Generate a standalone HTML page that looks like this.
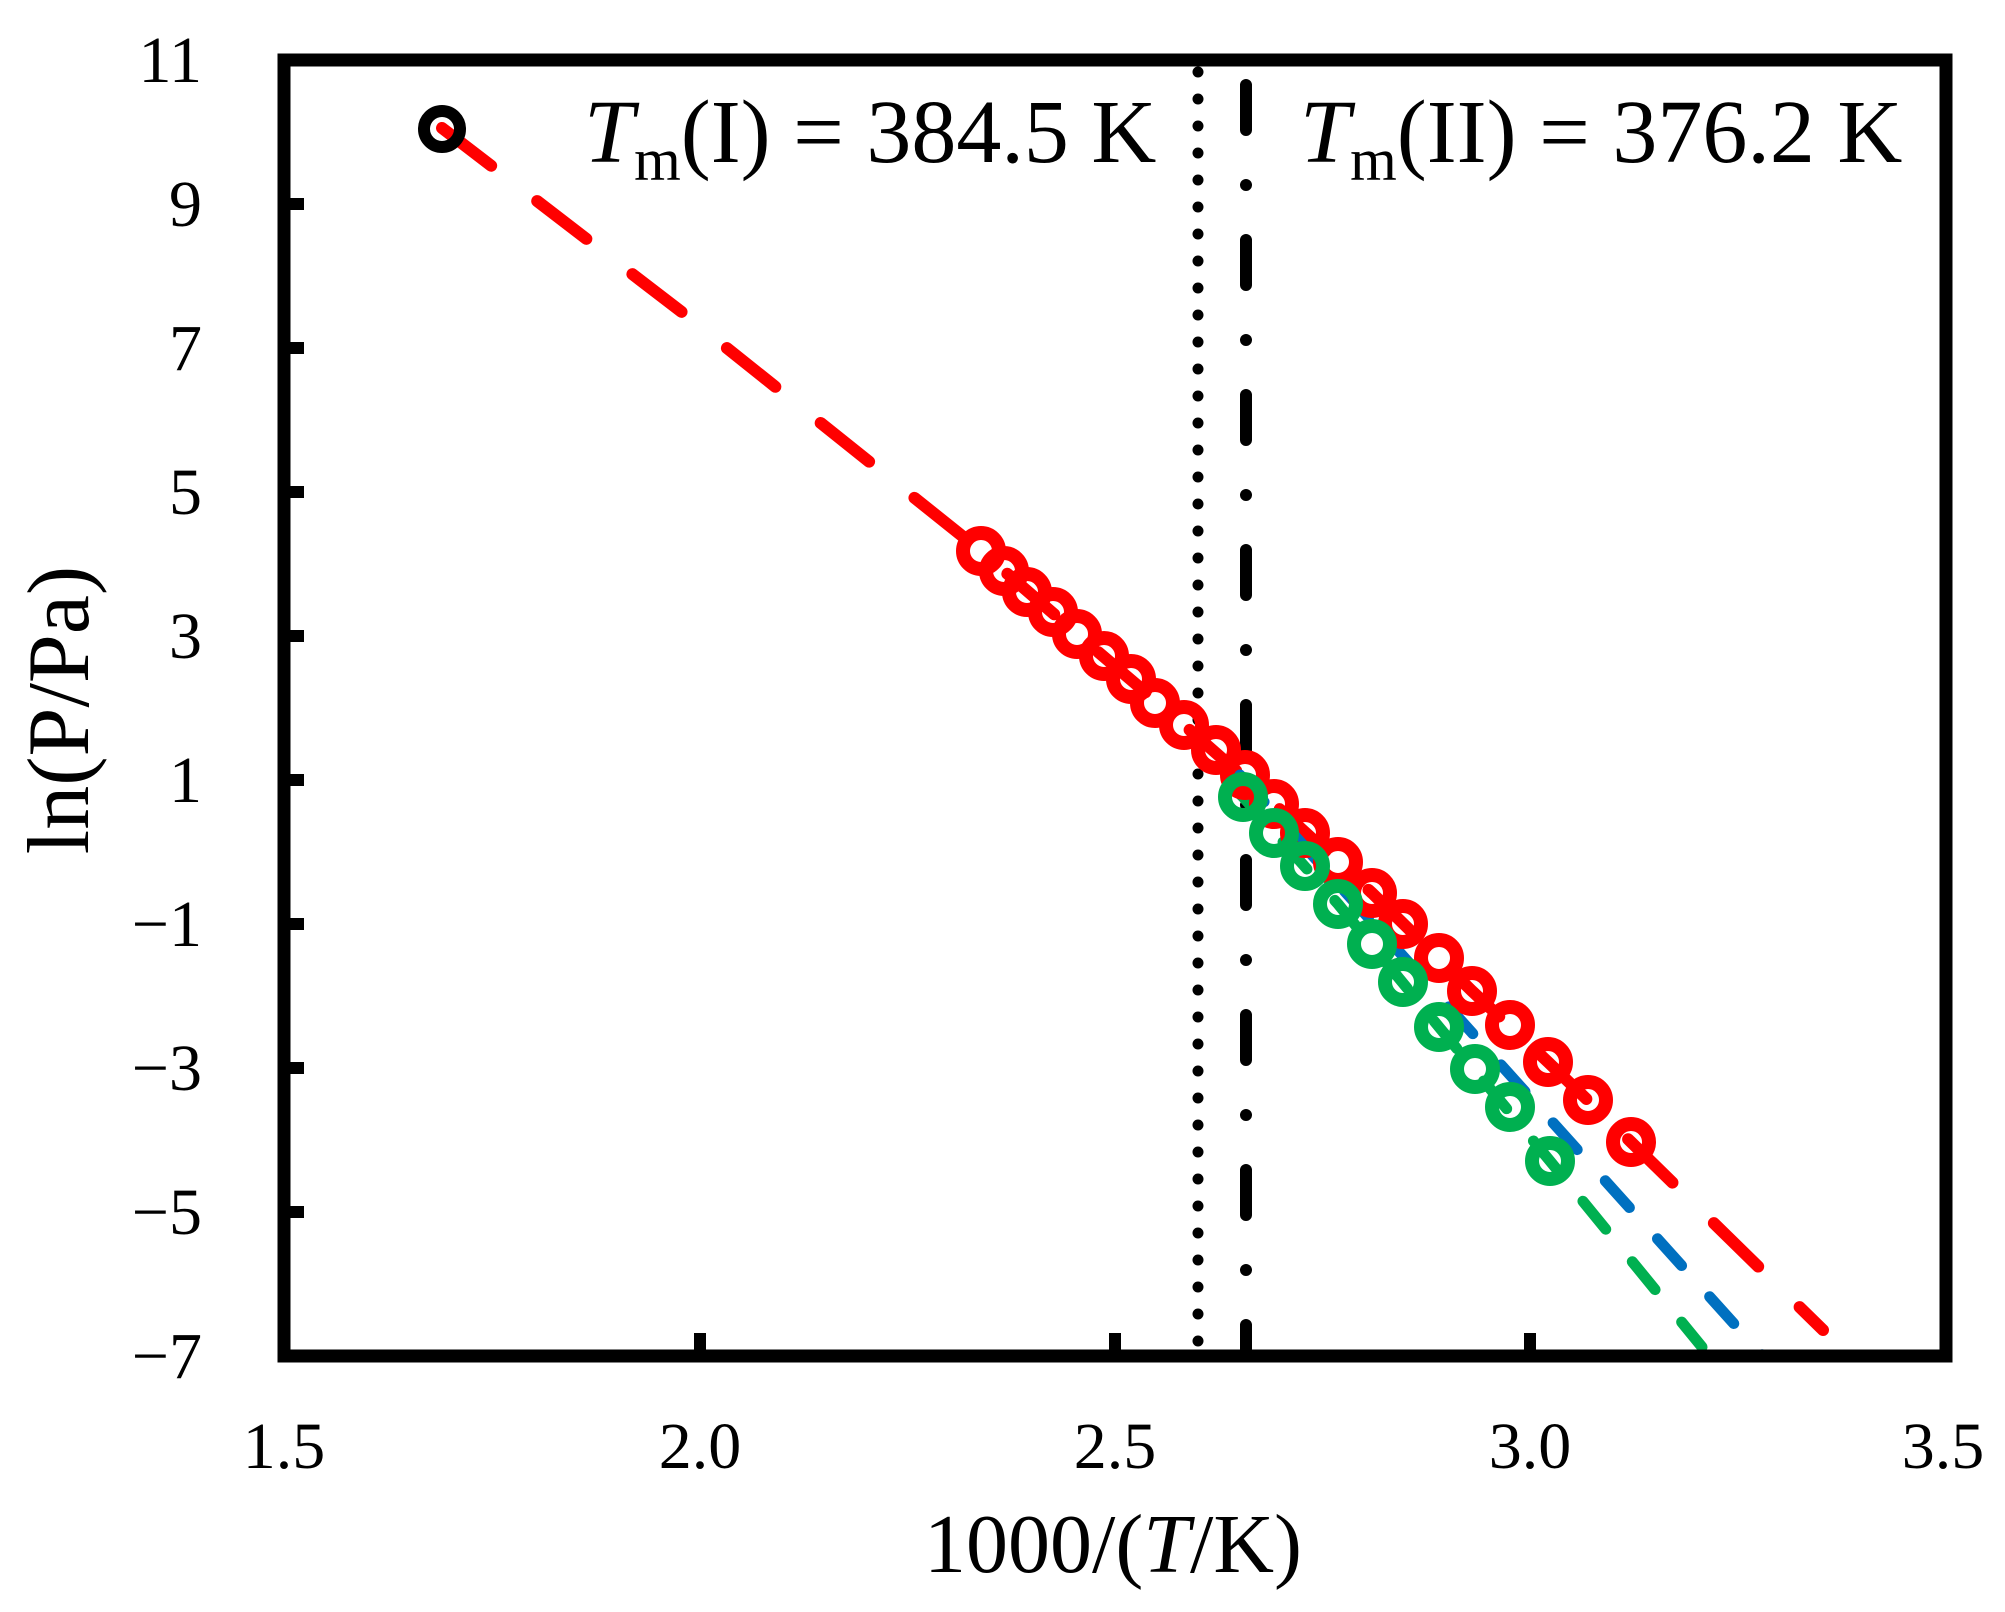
<!DOCTYPE html>
<html><head><meta charset="utf-8"><style>
html,body{margin:0;padding:0;background:#fff;}
svg{display:block;}
text{font-family:"Liberation Serif",serif;fill:#000;}
</style></head><body>
<svg width="2005" height="1612" viewBox="0 0 2005 1612" xmlns="http://www.w3.org/2000/svg">
<rect width="2005" height="1612" fill="#fff"/>
<line x1="1198" y1="72" x2="1198" y2="1350" stroke="#000" stroke-width="11" stroke-linecap="round" stroke-dasharray="0 27"/>
<line x1="1246" y1="85" x2="1246" y2="1350" stroke="#000" stroke-width="12" stroke-linecap="round" stroke-dasharray="45 55 0 55"/>
<path d="M442,128 L683,313 L981,551 L1077,634 L1184,725 L1274,804 L1372,893 L1472,991 L1548,1062 L1631,1142 L1823,1330" fill="none" stroke="#ff0000" stroke-width="12" stroke-linecap="round" stroke-dasharray="62 58"/>
<path d="M1240,775 L1763,1356" fill="none" stroke="#0070c0" stroke-width="11" stroke-linecap="round" stroke-dasharray="36 42"/>
<path d="M1230,785 L1243,797 L1338,904 L1439,1027 L1550,1161 L1702,1347" fill="none" stroke="#00b050" stroke-width="11" stroke-linecap="round" stroke-dasharray="36 42"/>
<g fill="none" stroke="#ff0000" stroke-width="14">
<circle cx="981" cy="551" r="18"/><circle cx="1004" cy="571" r="18"/><circle cx="1027" cy="592" r="18"/>
<circle cx="1053" cy="612" r="18"/><circle cx="1077" cy="634" r="18"/><circle cx="1104" cy="656" r="18"/>
<circle cx="1131" cy="679" r="18"/><circle cx="1155" cy="703" r="18"/><circle cx="1184" cy="725" r="18"/>
<circle cx="1216" cy="750" r="18"/><circle cx="1245" cy="775" r="18"/><circle cx="1274" cy="804" r="18"/>
<circle cx="1305" cy="833" r="18"/><circle cx="1338" cy="862" r="18"/><circle cx="1372" cy="893" r="18"/>
<circle cx="1403" cy="924" r="18"/><circle cx="1439" cy="958" r="18"/><circle cx="1472" cy="991" r="18"/>
<circle cx="1510" cy="1025" r="18"/><circle cx="1548" cy="1062" r="18"/><circle cx="1588" cy="1100" r="18"/>
<circle cx="1631" cy="1142" r="18"/>
</g>
<g fill="none" stroke="#00b050" stroke-width="14">
<circle cx="1243" cy="797" r="18"/><circle cx="1274" cy="833" r="18"/><circle cx="1305" cy="866" r="18"/>
<circle cx="1338" cy="904" r="18"/><circle cx="1372" cy="944" r="18"/><circle cx="1403" cy="982" r="18"/>
<circle cx="1439" cy="1027" r="18"/><circle cx="1475" cy="1069" r="18"/><circle cx="1510" cy="1107" r="18"/>
<circle cx="1550" cy="1161" r="18"/>
</g>
<circle cx="442" cy="129" r="18" fill="none" stroke="#000" stroke-width="12"/>
<rect x="284" y="60" width="1662" height="1296" fill="none" stroke="#000" stroke-width="13"/>
<g stroke="#000" stroke-width="12">
<line x1="284" y1="204" x2="304" y2="204"/><line x1="284" y1="348" x2="304" y2="348"/>
<line x1="284" y1="492" x2="304" y2="492"/><line x1="284" y1="636" x2="304" y2="636"/>
<line x1="284" y1="780" x2="304" y2="780"/><line x1="284" y1="924" x2="304" y2="924"/>
<line x1="284" y1="1068" x2="304" y2="1068"/><line x1="284" y1="1212" x2="304" y2="1212"/>
<line x1="700" y1="1356" x2="700" y2="1333"/><line x1="1115" y1="1356" x2="1115" y2="1333"/><line x1="1530" y1="1356" x2="1530" y2="1333"/>
</g>
<g font-size="66" text-anchor="end">
<text x="202" y="82">11</text><text x="202" y="226">9</text><text x="202" y="370">7</text>
<text x="202" y="514">5</text><text x="202" y="658">3</text><text x="202" y="802">1</text>
<text x="202" y="946">−1</text><text x="202" y="1090">−3</text><text x="202" y="1234">−5</text>
<text x="202" y="1378">−7</text>
</g>
<g font-size="66" text-anchor="middle">
<text x="284" y="1468">1.5</text><text x="700" y="1468">2.0</text><text x="1115" y="1468">2.5</text>
<text x="1530" y="1468">3.0</text><text x="1943" y="1468">3.5</text>
</g>
<text x="1113" y="1572" font-size="84" text-anchor="middle">1000/(<tspan font-style="italic">T</tspan>/K)</text>
<text transform="translate(88,710) rotate(-90)" font-size="88" text-anchor="middle">ln(P/Pa)</text>
<text x="584" y="162" font-size="90"><tspan font-style="italic">T</tspan><tspan font-size="60" dy="18">m</tspan><tspan dy="-18">(I) = 384.5 K</tspan></text>
<text x="1300" y="162" font-size="90"><tspan font-style="italic">T</tspan><tspan font-size="60" dy="18">m</tspan><tspan dy="-18">(II) = 376.2 K</tspan></text>
</svg>
</body></html>
